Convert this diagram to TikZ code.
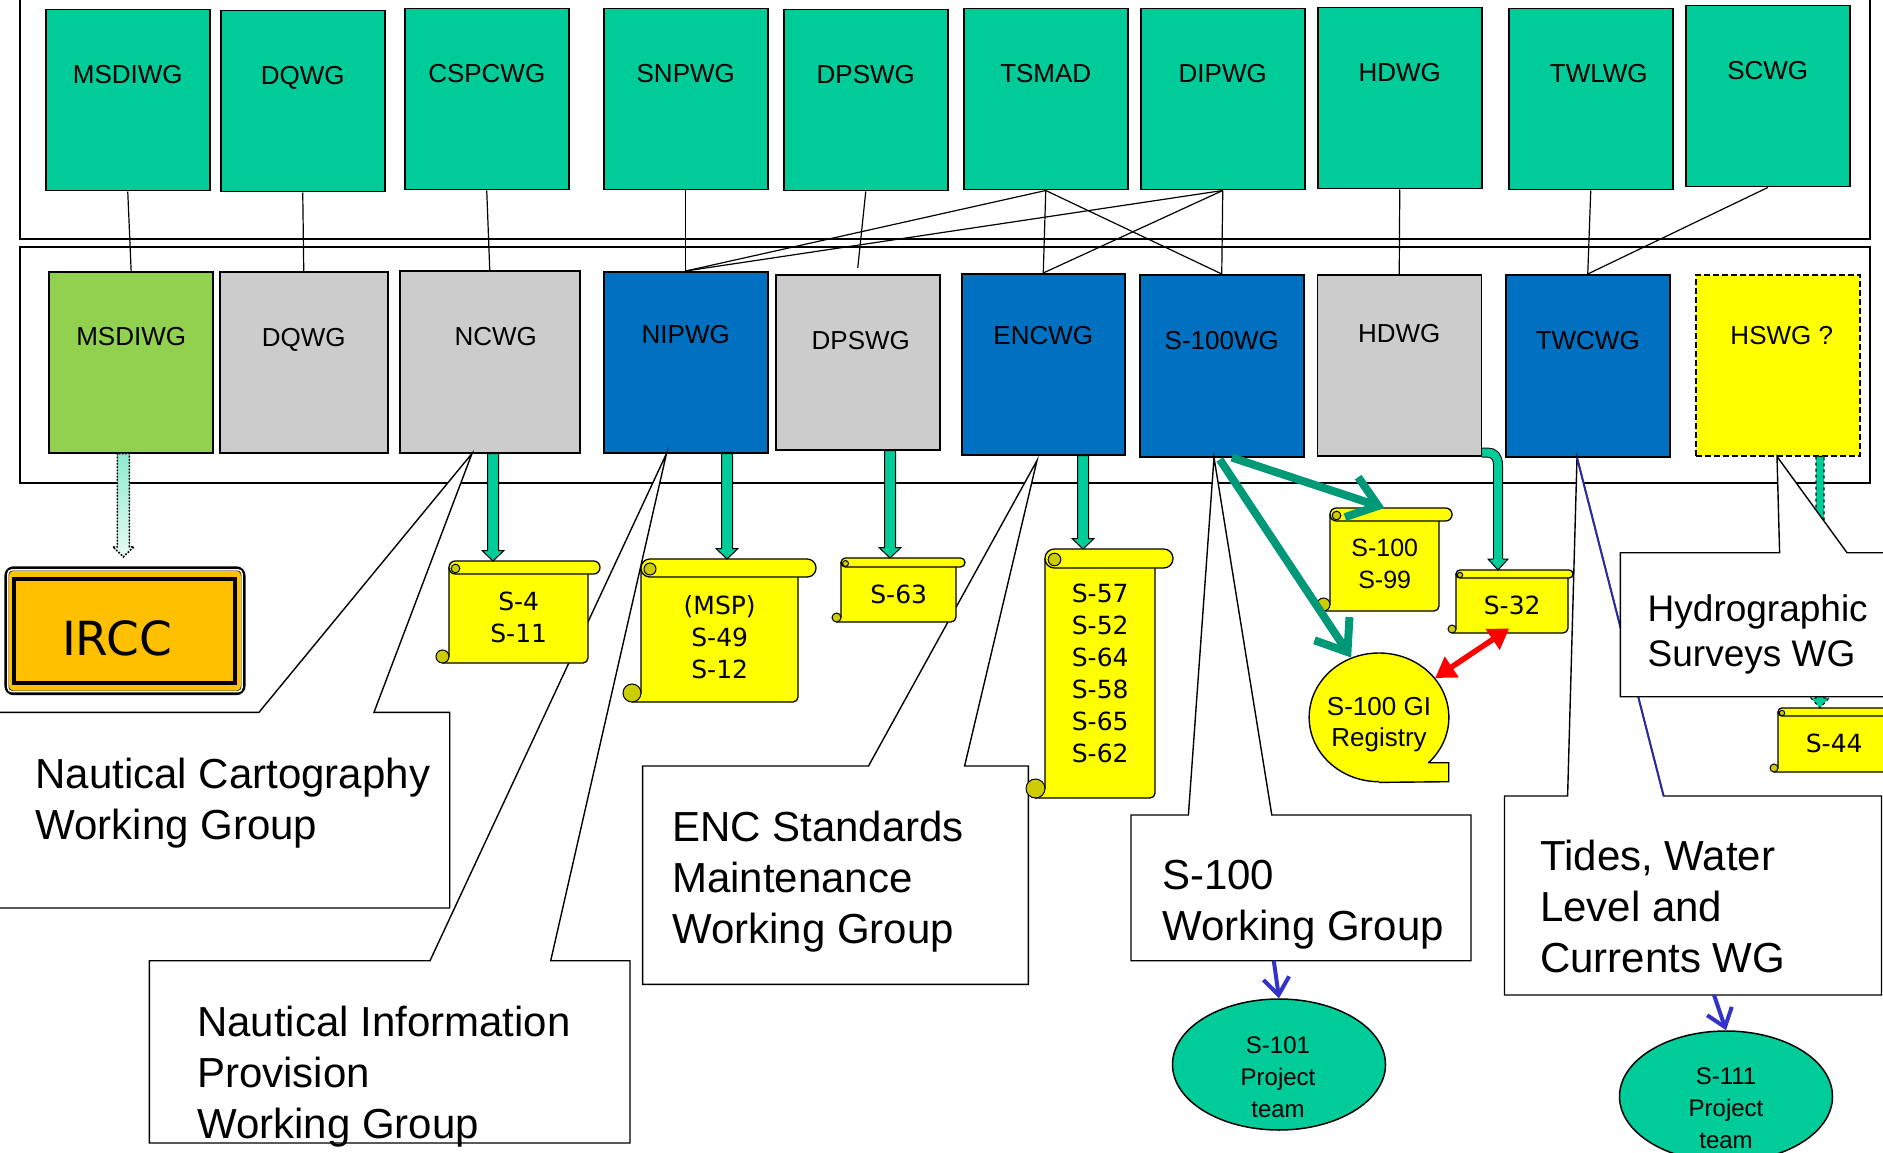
\documentclass[tikz,border=0pt]{standalone}
\usepackage{fontspec}
\setmainfont{Liberation Sans}
\newfontfamily\verd{DejaVu Sans}
\usetikzlibrary{calc,arrows.meta,shapes.geometric}
\definecolor{wgteal}{HTML}{00CC99}
\definecolor{wgblue}{HTML}{0070C0}
\definecolor{wggrey}{HTML}{CCCCCC}
\definecolor{wggreen}{HTML}{92D050}
\definecolor{wgyellow}{HTML}{FFFF00}
\definecolor{curlc}{HTML}{CCCC00}
\definecolor{irccc}{HTML}{FFC000}
\definecolor{darkteal}{HTML}{009977}
\definecolor{arrowblue}{HTML}{3333CC}
\definecolor{navyline}{HTML}{2B2BA0}
\definecolor{paleteal}{HTML}{8EEBCF}
\definecolor{paleteal2}{HTML}{E6FBF4}
\tikzset{
 wgbox/.style={draw=black, line width=1.5pt, inner sep=0pt, anchor=north west, minimum width=164pt, font=\fontsize{26}{31}\selectfont},
 topbox/.style={wgbox, fill=wgteal, text height=74pt, text depth=107pt},
 link/.style={line width=1.2pt},
 container/.style={line width=2pt},
 callout/.style={fill=white, draw=black, line width=1.4pt},
 bigtext/.style={anchor=north west, inner sep=0pt, align=left, font=\fontsize{42}{51}\selectfont},
 scrollst/.style={fill=wgyellow, draw=black, line width=1.3pt, line join=round},
 curlst/.style={fill=curlc, draw=black, line width=1pt},
 scrolltext/.style={inner sep=0pt, align=center, font=\verd\fontsize{25}{32}\selectfont},
 blockarr/.style={fill=wgteal, draw=black, line width=1pt},
 thickgreen/.style={draw=darkteal, line width=8pt, -{Straight Barb[length=28pt,width=42pt]}},
 bluearr/.style={draw=arrowblue, line width=4pt, -{Straight Barb[length=17pt,width=26pt]}},
 redarr/.style={draw=red, line width=5.5pt, {Triangle[length=20pt,width=24pt]}-{Triangle[length=20pt,width=24pt]}},
 ellnode/.style={ellipse, draw=black, line width=1.5pt, inner sep=0pt},
 smalltext/.style={inner sep=0pt, align=center, font=\fontsize{24}{32}\selectfont},
}
% #1 name, #2 L, #3 T, #4 R, #5 B, #6 roll right, #7 roll size, #8 text dy, #9 text
\newcommand\wgscroll[9]{%
 \filldraw[scrollst] ({#2-#7/2},#5) [rounded corners=5pt] -- (#4,#5) -- (#4,{#3+#7/2}) [sharp corners] -- (#2,{#3+#7/2}) -- (#2,{#5-#7/2}) -- cycle;
 \filldraw[scrollst, rounded corners={0.49*#7pt}] (#2,#3) rectangle (#6,{#3+#7});
 \filldraw[curlst] ({#2+#7/2},{#3+#7/2+1}) circle[radius={#7/3*1pt}];
 \filldraw[curlst] ({#2-#7/2},{#5-#7/2}) circle[radius={#7/2*1pt}];
 \node[inner sep=0pt, anchor=north west, minimum width={(#4-#2)*1pt}, minimum height={(#5-#3-#7)*1pt}] (#1) at (#2,{#3+#7}) {};
 \coordinate (#1-top) at ({(#2+#4)/2},#3);
 \node[scrolltext] (#1-text) at ($(#1.center)+(0,#8)$) {#9};
}
% #1 opts, #2 start, #3 end, #4 shaft half width, #5 head half width, #6 head length
\newcommand\blkarrow[6][]{%
 \filldraw[#1] let \p1=(#2), \p2=(#3) in
 (\x1-#4pt,\y1) -- (\x1-#4pt,\y2+#6pt) -- (\x1-#5pt,\y2+#6pt) -- (\x1,\y2) -- (\x1+#5pt,\y2+#6pt) -- (\x1+#4pt,\y2+#6pt) -- (\x1+#4pt,\y1) -- cycle;}
\begin{document}
\begin{tikzpicture}[x=1pt,y=-1pt]
\useasboundingbox (0,0) rectangle (1883,1153);
\fill[white] (0,0) rectangle (1883,1153);
% containers
\draw[container] (20,-10) rectangle (1870,239);
\draw[container] (20,246.7) rectangle (1870,483);
% top row
\node[topbox] (msdiwgT) at (45,9) {MSDIWG};
\node[topbox] (dqwgT) at (220,10) {DQWG};
\node[topbox] (cspcwgT) at (404,8) {CSPCWG};
\node[topbox] (snpwgT) at (603,8) {SNPWG};
\node[topbox] (dpswgT) at (783,9) {DPSWG};
\node[topbox] (tsmadT) at (963,8) {TSMAD};
\node[topbox] (dipwgT) at (1140,8) {DIPWG};
\node[topbox] (hdwgT) at (1317,7) {HDWG};
\node[topbox] (twlwgT) at (1508,8) {\hspace*{16pt}TWLWG};
\node[topbox] (scwgT) at (1685,5) {SCWG};
% bottom row
\node[wgbox, fill=wggreen, text height=73.3pt, text depth=107.7pt] (msdiwgB) at (48.4,271) {MSDIWG};
\node[wgbox, fill=wggrey, minimum width=168pt, text height=75pt, text depth=106pt] (dqwgB) at (219,271) {DQWG};
\node[wgbox, fill=wggrey, minimum width=180pt, text height=74.3pt, text depth=107.7pt] (ncwgB) at (399,270) {\hspace*{12pt}NCWG};
\node[wgbox, fill=wgblue, text height=71.3pt, text depth=109.7pt] (nipwgB) at (603,271) {NIPWG};
\node[wgbox, fill=wggrey, text height=74.3pt, text depth=100.7pt] (dpswgB) at (775,274) {\hspace*{6pt}DPSWG};
\node[wgbox, fill=wgblue, minimum width=163pt, text height=70.3pt, text depth=110.7pt] (encwgB) at (961,273) {ENCWG};
\node[wgbox, fill=wgblue, text height=74.3pt, text depth=107.7pt] (s100wgB) at (1139,274) {S-100WG};
\node[wgbox, fill=wggrey, text height=67.3pt, text depth=113.7pt] (hdwgB) at (1316.5,274) {HDWG};
\node[wgbox, fill=wgblue, text height=74.3pt, text depth=107.7pt] (twcwgB) at (1505,274) {TWCWG};
\node[wgbox, fill=wgyellow, dash pattern=on 6pt off 3pt, text height=69.3pt, text depth=111.7pt] (hswgB) at (1695,274) {\hspace*{8pt}HSWG ?};
% links
\draw[link] (msdiwgT.south) -- (msdiwgB.north);
\draw[link] (dqwgT.south) -- (dqwgB.north);
\draw[link] (cspcwgT.south) -- (ncwgB.north);
\draw[link] (snpwgT.south) -- (nipwgB.north);
\draw[link] (dpswgT.south) -- ($(dpswgB.north)+(0,-6)$);
\draw[link] (nipwgB.north) -- (tsmadT.south);
\draw[link] (nipwgB.north) -- (dipwgT.south);
\draw[link] (tsmadT.south) -- (encwgB.north);
\draw[link] (tsmadT.south) -- (s100wgB.north);
\draw[link] (dipwgT.south) -- (encwgB.north);
\draw[link] (dipwgT.south) -- (s100wgB.north);
\draw[link] (hdwgT.south) -- (hdwgB.north);
\draw[link] (twlwgT.south) -- (twcwgB.north);
\draw[link] (scwgT.south) -- (twcwgB.north);
% apex coordinates
\coordinate (ncapex) at ($(ncwgB.south west)+(73,0)$);
\coordinate (nipapex) at ($(nipwgB.south west)+(63.5,0)$);
\coordinate (encapex) at ($(encwgB.south west)+(76,5)$);
\coordinate (s100apex) at ($(s100wgB.south west)+(75,0)$);
\coordinate (twcapex) at ($(twcwgB.south west)+(72,0)$);
\coordinate (hsapex) at ($(hswgB.south west)+(82,0)$);
% callouts
\filldraw[callout] (-10,712.3) -- (259,712.3) -- (ncapex) -- (374,712.3) -- (449.7,712.3) -- (449.7,908) -- (-10,908) -- cycle;
\node[bigtext] (nctext) at (35.4,758) {Nautical Cartography\\Working Group};
\filldraw[callout] (149.4,960.7) -- (430,960.7) -- (nipapex) -- (550.7,960.7) -- (630,960.7) -- (630,1143) -- (149.4,1143) -- cycle;
\node[bigtext] (niptext) at (197,1005.5) {Nautical Information\\Provision\\Working Group};
\filldraw[callout] (642.6,766) -- (868.5,766) -- (encapex) -- (964.6,766) -- (1028.4,766) -- (1028.4,984.3) -- (642.6,984.3) -- cycle;
\node[bigtext] (enctext) at (672,810.7) {ENC Standards\\Maintenance\\Working Group};
\filldraw[callout] (1131,815) -- (1188.4,815) -- (s100apex) -- (1271.8,815) -- (1471,815) -- (1471,960.7) -- (1131,960.7) -- cycle;
\node[bigtext] (s100text) at (1162,859.5) {S-100\\Working Group};
\coordinate (s100cb) at (1273.8,960.7);
\filldraw[callout] (1504.5,796) -- (1567.6,796) -- (twcapex) -- (1663.6,796) -- (1881.5,796) -- (1881.5,995) -- (1504.5,995) -- cycle;
\draw[navyline, line width=2pt] (twcapex) -- (1663.6,796);
\node[bigtext] (tidestext) at (1540,840) {Tides, Water\\Level and\\Currents WG};
\coordinate (tidescb) at (1714,995);
% scrolls
\wgscroll{s4}{449}{561}{588}{663}{600}{13}{-1}{S-4\\S-11}
\wgscroll{s49}{641}{559}{798}{702}{816}{18}{-3}{(MSP)\\S-49\\S-12}
\wgscroll{s63}{841}{558}{956}{622}{965}{9}{0}{S-63}
\wgscroll{s57}{1045}{549}{1155}{798}{1173}{19}{-9.5}{S-57\\S-52\\S-64\\S-58\\S-65\\S-62}
\begin{scope}[scrolltext/.style={inner sep=0pt, align=center, font=\fontsize{25}{32}\selectfont}]
\wgscroll{s100s99}{1330}{508}{1439}{611}{1452}{13}{-2}{S-100\\S-99}
\end{scope}
\wgscroll{s32}{1456}{570}{1568}{633}{1573}{8}{0}{S-32}
\wgscroll{s44}{1778}{708}{1890}{772}{1900}{8}{-1}{S-44}
% block arrows
\coordinate (ncwgout) at ($(ncwgB.south west)+(94,0)$);
\coordinate (nipwgout) at ($(nipwgB.south west)+(124,0)$);
\coordinate (dpswgout) at ($(dpswgB.south west)+(115,0)$);
\coordinate (encwgout) at ($(encwgB.south west)+(122,0)$);
\blkarrow[blockarr]{ncwgout}{s4-top}{5.5}{11}{10.5}
\blkarrow[blockarr]{nipwgout}{s49-top}{5.5}{11}{10.5}
\blkarrow[blockarr]{dpswgout}{s63-top}{5.5}{11}{10.5}
\blkarrow[blockarr]{encwgout}{s57-top}{5.5}{11}{10.5}
% HDWG curved arrow
\coordinate (hdout) at ($(hdwgB.south east)+(0,-4)$);
\coordinate (hdx) at ($(hdout)+(16,0)$);
\coordinate (hdtip) at (hdx |- s32-top);
\draw[line width=1pt, double=wgteal, double distance=8pt] (hdout) -- ($(hdout)+(5,0)$) .. controls ($(hdout)+(12,0)$) and ($(hdout)+(16,4)$) .. ($(hdout)+(16,13)$) -- ($(hdtip)+(0,-8)$);
\fill[wgteal] ($(hdtip)+(-10,-11)$) -- (hdtip) -- ($(hdtip)+(10,-11)$) -- cycle;
\draw[line width=1pt] ($(hdtip)+(-5,-11)$) -- ($(hdtip)+(-10,-11)$) -- (hdtip) -- ($(hdtip)+(10,-11)$) -- ($(hdtip)+(5,-11)$);
% HSWG dashed arrow and Hydrographic callout
\coordinate (hsout) at ($(hswgB.south west)+(125,0)$);
\blkarrow[fill=wgteal, draw=black, dashed, line width=1.1pt]{hsout}{s44-top}{4}{9}{10}
\filldraw[callout] (1620.4,552.7) -- (1779.6,552.7) -- (hsapex) -- (1847,552.7) -- (1900,552.7) -- (1900,696.7) -- (1620.4,696.7) -- cycle;
\node[bigtext, font=\fontsize{37}{45}\selectfont] (hydtext) at (1647.5,594) {Hydrographic\\Surveys WG};
% registry
\node[ellnode, fill=wgyellow, line width=1.4pt, minimum width=139.7pt, minimum height=128.7pt] (registry) at (1379,717.35) {};
\fill[wgyellow] (registry.south) -- ($(registry.center)+(69.7,64.35)$) -- ($(registry.center)+(69.7,45.35)$) -- ($(registry.center)+(49,45.35)$) -- (registry.center) -- cycle;
\draw[line width=1.4pt] (registry.south) -- ($(registry.center)+(69.7,64.35)$) -- ($(registry.center)+(69.7,45.35)$) -- ($(registry.center)+(49,45.35)$);
\node[inner sep=0pt, align=center, font=\fontsize{26}{31.5}\selectfont] (regtext) at ($(registry.center)+(0,7.5)$) {S-100 GI\\Registry};
% S-100WG arrows
\draw[thickgreen] ($(s100wgB.south)+(10,0)$) -- (s100s99-top);
\draw[thickgreen] ($(s100wgB.south)+(-2,2)$) -- (registry.115);
\draw[redarr] (registry.35) -- ($(s32.south)+(-3,-5)$);
% MSDIWG dotted arrow and IRCC
\node[draw=black, line width=4.5pt, rounded corners=7pt, fill=irccc, minimum width=236.6pt, minimum height=124.4pt, anchor=north west, inner sep=0pt] (ircc) at (4.4,566.3) {};
\draw[white, line width=1.5pt, rounded corners=4pt] ($(ircc.north west)+(3.5,3.5)$) rectangle ($(ircc.south east)+(-3.5,-3.5)$);
\node[draw=black, line width=4pt, fill=irccc, minimum width=221pt, inner sep=0pt, text height=76.6pt, text depth=27.4pt, font=\verd\fontsize{47}{56}\selectfont] (irccbox) at (ircc.center) {IRCC\hspace*{16pt}};
\coordinate (msdout) at ($(msdiwgB.south west)+(75,0)$);
\coordinate (irccin) at ($(ircc.north)+(0,-9.5)$);
\blkarrow[draw=black, dash pattern=on 1.6pt off 1.6pt, line width=1.6pt, top color=paleteal, bottom color=paleteal2]{msdout}{irccin}{6}{10.5}{10}
% project teams
\node[ellnode, fill=wgteal, minimum width=213pt, minimum height=131pt] (s101) at (1279,1064.5) {};
\node[smalltext] (s101t) at (1278,1077) {S-101\\Project\\team};
\node[ellnode, fill=wgteal, minimum width=213pt, minimum height=131pt] (s111) at (1726,1096.5) {};
\node[smalltext] (s111t) at (1726,1108.3) {S-111\\Project\\team};
\draw[bluearr] (s100cb) -- (s101.north);
\draw[bluearr] (tidescb) -- (s111.north);
\end{tikzpicture}
\end{document}
